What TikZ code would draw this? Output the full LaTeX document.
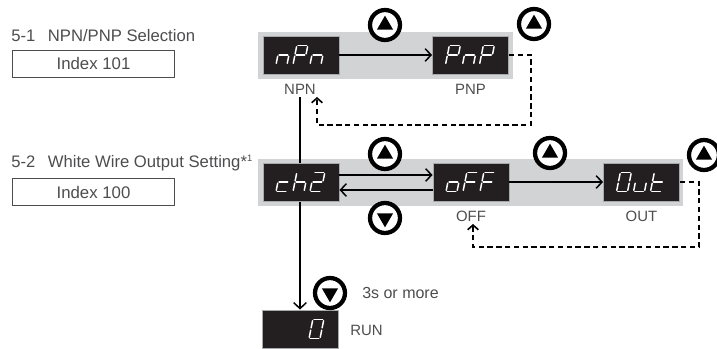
\documentclass[tikz,border=0pt]{standalone}
\usepackage{fontspec}
\setmainfont{Liberation Sans}
\usetikzlibrary{arrows.meta,calc,shapes.geometric}
\definecolor{band}{HTML}{D1D3D4}
\definecolor{lcd}{HTML}{231F20}
\definecolor{lcdrim}{HTML}{A7A9AC}
\definecolor{txt}{HTML}{4D4D4F}
\tikzset{
  seg/.style={draw=white, line width=1.1pt, line cap=round},
  lcdbox/.style={fill=lcd, draw=lcdrim, line width=0.6pt, minimum width=57pt, minimum height=28.5pt, inner sep=0pt},
  btn/.style={circle, draw=black, line width=3.2pt, minimum size=22.5pt, inner sep=0pt, fill=white},
  tri/.style={regular polygon, regular polygon sides=3, fill=black, inner sep=0pt, minimum size=14pt},
  lbl/.style={text=txt, font=\fontsize{11.2}{13}\selectfont, inner sep=0pt},
  head/.style={text=txt, font=\fontsize{12.5}{15}\selectfont, inner sep=0pt},
  idx/.style={draw=txt, line width=0.6pt, text=txt, font=\fontsize{12.6}{15}\selectfont, minimum width=122pt, minimum height=20.25pt, inner sep=0pt},
  arr/.style={line width=1.1pt, -{Straight Barb[length=4.5pt,width=9.5pt,line width=1.1pt]}},
  dsh/.style={line width=1.2pt, dash pattern=on 4pt off 2.6pt, -{Straight Barb[length=3.5pt,width=8pt,line width=1.2pt]}}
}
\newcommand\lsA{\draw[seg] (1.2,-19)--(9.8,-19);}
\newcommand\lsB{\draw[seg] (11,-17.8)--(11,-10.7);}
\newcommand\lsC{\draw[seg] (11,-8.3)--(11,-1.2);}
\newcommand\lsD{\draw[seg] (1.2,0)--(9.8,0);}
\newcommand\lsE{\draw[seg] (0,-1.2)--(0,-8.3);}
\newcommand\lsF{\draw[seg] (0,-17.8)--(0,-10.7);}
\newcommand\lsG{\draw[seg] (1.2,-9.5)--(9.8,-9.5);}
\newcommand\lcdchar[2]{\begin{scope}[shift={(#1,9.5)},xslant=0.2]#2\end{scope}}
\newcommand\Ln{\lsC\lsE\lsG}
\newcommand\LP{\lsA\lsB\lsF\lsG\lsE}
\newcommand\Lc{\lsD\lsE\lsG}
\newcommand\Lh{\lsF\lsE\lsG\lsC}
\newcommand\Ltwo{\lsA\lsB\lsG\lsE\lsD}
\newcommand\Lo{\lsC\lsD\lsE\lsG}
\newcommand\LF{\lsA\lsF\lsG\lsE}
\newcommand\LO{\lsA\lsB\lsC\lsD\lsE\lsF}
\newcommand\Lu{\lsC\lsD\lsE}
\newcommand\Lt{\lsF\lsE\lsG\lsD}
\newcommand\lcdword[4]{\begin{scope}[shift={(#1.center)}]\lcdchar{-25}{#2}\lcdchar{-8}{#3}\lcdchar{9}{#4}\end{scope}}
\begin{document}
\begin{tikzpicture}[x=0.75pt,y=-0.75pt]
\useasboundingbox (0,0) rectangle (717,349);
% headings
\node[head, anchor=west] (h1) at (11,36) {5-1\hspace{0.75em}NPN/PNP Selection};
\node[idx] (i1) at (93.5,63.5) {Index 101};
\node[head, anchor=west] (h2) at (11,163) {5-2\hspace{0.75em}White Wire Output Setting*\textsuperscript{\scriptsize 1}};
\node[idx] (i2) at (93.5,192) {Index 100};
% bands
\fill[band] (258,32) rectangle (513,79);
\fill[band] (258,159) rectangle (683,206);
% vertical line
\coordinate (vtop) at (300,97);
\node[lcdbox] (run) at (300,329) {};
\draw[arr] (vtop) -- (run.north -| vtop);
% boxes
\node[lcdbox] (npn) at (301,55) {};
\node[lcdbox] (pnp) at (470.5,55) {};
\node[lcdbox] (ch2) at (301,182) {};
\node[lcdbox] (off) at (471,182) {};
\node[lcdbox] (out) at (641.5,182) {};
\node[lcdbox] (run) at (300,329) {};
\lcdword{npn}{\Ln}{\LP}{\Ln}
\lcdword{pnp}{\LP}{\Ln}{\LP}
\lcdword{ch2}{\Lc}{\Lh}{\Ltwo}
\lcdword{off}{\Lo}{\LF}{\LF}
\lcdword{out}{\LO}{\Lu}{\Lt}
\begin{scope}[shift={(run.center)}]\lcdchar{9}{\LO}\end{scope}
% labels
\node[lbl] (lnpn) at (300,89) {NPN};
\node[lbl] (lpnp) at (470.5,89) {PNP};
\node[lbl] (loff) at (471,216) {OFF};
\node[lbl] (lout) at (641.5,216) {OUT};
\node[lbl, anchor=west] (lrun) at (350,330) {RUN};
\node[lbl, anchor=west, font=\fontsize{12}{14}\selectfont] (l3s) at (362,293) {3s or more};
% arrows
\draw[arr] (npn.east) -- (pnp.west);
\draw[arr] ($(ch2.east)+(0,-7)$) -- ($(off.west)+(0,-7)$);
\draw[arr] ($(off.west)+(0,8)$) -- ($(ch2.east)+(0,8)$);
\draw[arr] (off.east) -- (out.west);
% dashed returns
\coordinate (r1) at (317,97);
\draw[dsh] (pnp.east) -- (531,55) -- (531,125) -- (317,125) -- (r1);
\coordinate (r2) at (473,224);
\draw[dsh] (out.east) -- (699,182) -- (699,247) -- (473,247) -- (r2);
% buttons
\node[btn] (b1) at (385,25) {};
\node[tri] (t1) at (b1) {};
\node[btn] (b2) at (534,24) {};
\node[tri] (t2) at (b2) {};
\node[btn] (b3) at (385,154) {};
\node[tri] (t3) at (b3) {};
\node[btn] (b4) at (385,218) {};
\node[tri, shape border rotate=180] (t4) at (b4) {};
\node[btn] (b5) at (550,153) {};
\node[tri] (t5) at (b5) {};
\node[btn] (b6) at (704,155) {};
\node[tri] (t6) at (b6) {};
\node[btn] (b7) at (330,293) {};
\node[tri, shape border rotate=180] (t7) at (b7) {};
\end{tikzpicture}
\end{document}
